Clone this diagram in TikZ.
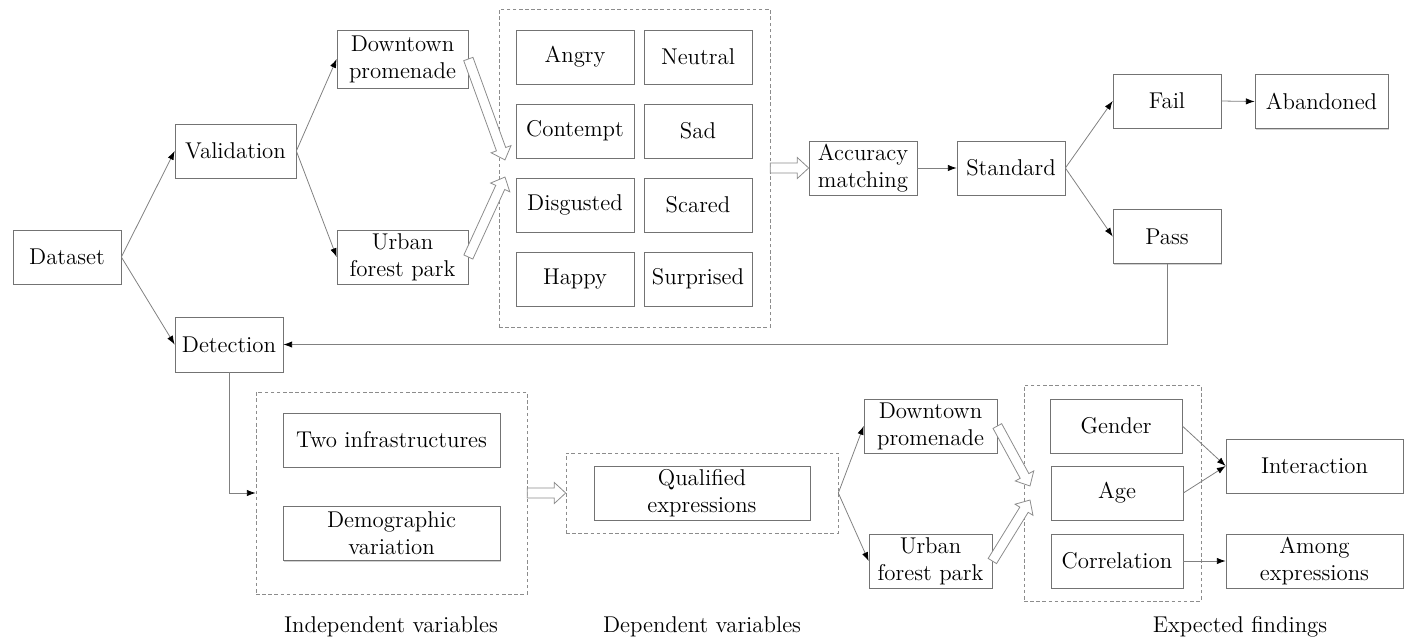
\documentclass[tikz,border=0pt]{standalone}
\usepackage{tikz}
\usetikzlibrary{arrows.meta, calc, shadows}

\tikzset{
	box/.style={draw=black!55, fill=white, align=center, inner sep=1pt,
		minimum height=1.08cm, font=\fontsize{13}{15.4}\selectfont,
		drop shadow={shadow xshift=0.6pt, shadow yshift=-0.6pt, opacity=0.3, fill=black!60}},
	group/.style={draw=black!45, dash pattern=on 2pt off 1.5pt, inner sep=0pt},
	link/.style={draw=black!50, line width=0.45pt, -{Latex[length=5pt, width=3.6pt, color=black]}},
	hollow/.style={draw=black!45, fill=white, line width=0.45pt, line join=miter},
	caption/.style={font=\fontsize{13}{15.4}\selectfont}
}

% open block arrow from #1 to #2
\newcommand{\hollowarrow}[2]{%
	\path let \p1=($(#2)-(#1)$) in \pgfextra{%
		\pgfmathparse{atan2(\y1,\x1)}\xdef\harrowang{\pgfmathresult}%
		\pgfmathparse{veclen(\x1,\y1)}\xdef\harrowlen{\pgfmathresult}};
	\draw[hollow, shift={(#1)}, rotate=\harrowang] (0pt,2.8pt) -- ({\harrowlen pt-6.5pt},2.8pt)
		-- ({\harrowlen pt-6.5pt},6pt) -- (\harrowlen pt,0pt) -- ({\harrowlen pt-6.5pt},-6pt)
		-- ({\harrowlen pt-6.5pt},-2.8pt) -- (0pt,-2.8pt) -- cycle;
}

\begin{document}
\begin{tikzpicture}[x=0.02cm, y=-0.02cm]

	\useasboundingbox (0,0) rectangle (1412,640);

	% groups
	\node[group, minimum width=5.42cm, minimum height=6.36cm] (emo) at (634.5,168) {};
	\node[group, minimum width=5.42cm, minimum height=4.04cm] (indep) at (391.5,493) {};
	\node[group, minimum width=5.44cm, minimum height=1.6cm] (dep) at (702,493) {};
	\node[group, minimum width=3.54cm, minimum height=4.32cm] (find) at (1112.5,493) {};

	% upper branch
	\node[box, minimum width=2.16cm] (data) at (67,257) {Dataset};
	\node[box, minimum width=2.42cm] (valid) at (235.5,151) {Validation};
	\node[box, minimum width=2.16cm, minimum height=1.1cm] (detect) at (229,344.5) {Detection};
	\node[box, minimum width=2.62cm, minimum height=1.16cm] (dtA) at (402.5,59) {Downtown\\promenade};
	\node[box, minimum width=2.62cm] (urA) at (402.5,257) {Urban\\forest park};

	\node[box, minimum width=2.36cm] (angry) at (575,57) {Angry};
	\node[box, minimum width=2.16cm] (neutral) at (698,57) {Neutral};
	\node[box, minimum width=2.36cm] (contempt) at (575,131) {Contempt};
	\node[box, minimum width=2.16cm] (sad) at (698,131) {Sad};
	\node[box, minimum width=2.36cm] (disgust) at (575,205) {Disgusted};
	\node[box, minimum width=2.16cm] (scared) at (698,205) {Scared};
	\node[box, minimum width=2.36cm] (happy) at (575,279) {Happy};
	\node[box, minimum width=2.16cm] (surprise) at (698,279) {Surprised};

	\node[box, minimum width=2.16cm] (acc) at (863,168) {Accuracy\\matching};
	\node[box, minimum width=2.16cm] (std) at (1011,168) {Standard};
	\node[box, minimum width=2.16cm] (fail) at (1167,101) {Fail};
	\node[box, minimum width=2.66cm] (aband) at (1321.5,101.5) {Abandoned};
	\node[box, minimum width=2.16cm] (pass) at (1167,236.5) {Pass};

	% lower branch
	\node[box, minimum width=4.34cm] (infra) at (391.5,440) {Two infrastructures};
	\node[box, minimum width=4.34cm] (demo) at (391.5,533.5) {Demographic\\variation};
	\node[box, minimum width=4.32cm] (qual) at (702,493) {Qualified\\expressions};
	\node[box, minimum width=2.66cm] (dtB) at (930.5,426) {Downtown\\promenade};
	\node[box, minimum width=2.46cm] (urB) at (930.5,561) {Urban\\forest park};
	\node[box, minimum width=2.64cm] (gender) at (1116,426) {Gender};
	\node[box, minimum width=2.64cm] (age) at (1117,493) {Age};
	\node[box, minimum width=2.64cm] (corr) at (1117,561) {Correlation};
	\node[box, minimum width=3.54cm] (inter) at (1314.5,466) {Interaction};
	\node[box, minimum width=3.54cm] (among) at (1314.5,561) {Among\\expressions};

	\node[caption] (capA) at (391,627) {Independent variables};
	\node[caption] (capB) at (702,627) {Dependent variables};
	\node[caption] (capC) at (1240,627) {Expected findings};

	% connectors
	\draw[link] (data.east) -- (valid.west);
	\draw[link] (data.east) -- (detect.west);
	\draw[link] (valid.east) -- (dtA.west);
	\draw[link] (valid.east) -- (urA.west);
	\draw[link] (acc.east) -- (std.west);
	\draw[link] (std.east) -- (fail.west);
	\draw[link] (std.east) -- (pass.west);
	\draw[link] (fail.east) -- (aband.west);
	\draw[link] (pass.south) |- (detect.east);
	\draw[link] (detect.south) |- (indep.west);
	\draw[link] (dep.east) -- (dtB.west);
	\draw[link] (dep.east) -- (urB.west);
	\draw[link] (gender.east) -- (inter.west);
	\draw[link] (age.east) -- (inter.west);
	\draw[link] (corr.east) -- (among.west);

	% block arrows
	\coordinate (emoinA) at (505,160);
	\coordinate (emoinB) at (505,177);
	\coordinate (findinA) at (1030,486);
	\coordinate (findinB) at (1030,500);

	\hollowarrow{dtA.east}{emoinA}
	\hollowarrow{urA.east}{emoinB}
	\hollowarrow{emo.east}{acc.west}
	\hollowarrow{indep.east}{dep.west}
	\hollowarrow{dtB.east}{findinA}
	\hollowarrow{urB.east}{findinB}

\end{tikzpicture}
\end{document}
